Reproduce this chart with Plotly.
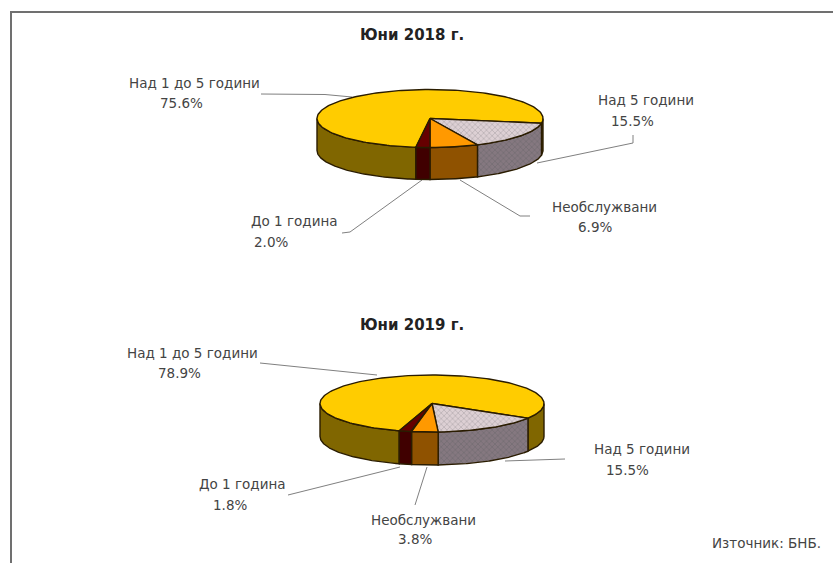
import numpy as np
import plotly.graph_objects as go

categories = ["Над 1 до 5 години", "Над 5 години", "Необслужвани", "До 1 година"]
values_2018 = [75.6, 15.5, 6.9, 2.0]
values_2019 = [78.9, 15.5, 3.8, 1.8]
titles = ["Юни 2018 г.", "Юни 2019 г."]
source = "Източник: БНБ."

TOP = ["#FFCC00", None, "#FF9900", "#660000"]
SIDE = ["#806600", None, "#8F5200", "#400000"]
EDGE = "#2a1c00"
TXT = "#444444"
FONT = "DejaVu Sans"

PIES = [
    dict(values=values_2018, cx=430, cy=118.5, rx=113, ry=29, depth=32, start=-97.2),
    dict(values=values_2019, cx=432, cy=403.5, rx=112, ry=28.5, depth=33, start=-107.0),
]


def ell(p, th, dy=0.0):
    r = np.radians(th)
    return p["cx"] + p["rx"] * np.cos(r), p["cy"] - p["ry"] * np.sin(r) + dy


fig = go.Figure()
side_traces, top_traces = [], []
for p in PIES:
    a = p["start"]
    for i, v in enumerate(p["values"]):
        b = a - v * 3.6
        top = np.linspace(a, b, 180)
        xs, ys = ell(p, top)
        xs = np.r_[p["cx"], xs, p["cx"]]
        ys = np.r_[p["cy"], ys, p["cy"]]
        style = dict(fillcolor=TOP[i])
        if i == 1:
            style = dict(fillpattern=dict(shape="x", size=4, solidity=0.25, bgcolor="#DDD0D4", fgcolor="#aaa2a6", fillmode="replace"))
        top_traces.append(go.Scatter(x=xs, y=ys, mode="lines", fill="toself", line=dict(color=EDGE, width=1.4), hoverinfo="skip", **style))
        for lo, hi in [(-180, 0), (-540, -360)]:
            s, e = min(a, hi), max(b, lo)
            if s <= e:
                continue
            arc = np.linspace(s, e, 120)
            x1, y1 = ell(p, arc)
            x2, y2 = ell(p, arc[::-1], p["depth"])
            sstyle = dict(fillcolor=SIDE[i])
            if i == 1:
                sstyle = dict(fillpattern=dict(shape="x", size=4, solidity=0.25, bgcolor="#857880", fgcolor="#6c686c", fillmode="replace"))
            side_traces.append(go.Scatter(x=np.r_[x1, x2, x1[0]], y=np.r_[y1, y2, y1[0]], mode="lines", fill="toself", line=dict(color=EDGE, width=1.4), hoverinfo="skip", **sstyle))
        a = b
fig.add_traces(side_traces + top_traces)

label_pos_2018 = [((194, 83), (181, 103)), ((646, 100), (632, 121)), ((604, 207), (595, 227)), ((294, 221), (271, 242))]
label_pos_2019 = [((192, 353), (179, 373)), ((642, 449), (627, 470)), ((423, 520), (415, 539)), ((242, 484), (230, 505))]
annotations = []


def txt(t, x, y, bold=False, size=13.5):
    annotations.append(dict(text=f"<b>{t}</b>" if bold else t, x=x, y=y, xref="x", yref="y", showarrow=False,
                            xanchor="center", yanchor="middle", font=dict(family=FONT, size=size, color="#222" if bold else TXT)))


for vals, pos in [(values_2018, label_pos_2018), (values_2019, label_pos_2019)]:
    for c, v, (p1, p2) in zip(categories, vals, pos):
        txt(c, *p1)
        txt(f"{v:.1f}%", *p2)
txt(titles[0], 412, 35, True, 15)
txt(titles[1], 412, 325, True, 15)
txt(source, 766, 543, size=13.5)

leaders = [
    [(261, 94), (325, 94.5), (352, 97)],
    [(633, 135), (633, 143), (537, 163)],
    [(460, 180), (520, 216), (530, 216)],
    [(422, 180), (350, 232), (342, 233)],
    [(260, 363), (377, 375)],
    [(505, 461), (565, 459)],
    [(427, 467), (415, 505)],
    [(400, 467), (288, 495)],
]
shapes = []
for pts in leaders:
    d = "M " + " L ".join(f"{x},{y}" for x, y in pts)
    shapes.append(dict(type="path", path=d, xref="x", yref="y", line=dict(color="#808080", width=1), layer="below"))
shapes.append(dict(type="path", path="M 11,563 L 11,12 L 833,12", xref="x", yref="y", line=dict(color="#707070", width=2), layer="below"))

fig.update_layout(
    width=833, height=563, autosize=False, showlegend=False,
    margin=dict(l=0, r=0, t=0, b=0), paper_bgcolor="white", plot_bgcolor="white",
    xaxis=dict(range=[0, 833], visible=False, fixedrange=True),
    yaxis=dict(range=[563, 0], visible=False, fixedrange=True),
    annotations=annotations, shapes=shapes,
)
fig.write_html("out.html", config={"displayModeBar": False}, post_script="document.body.style.margin='0';")
